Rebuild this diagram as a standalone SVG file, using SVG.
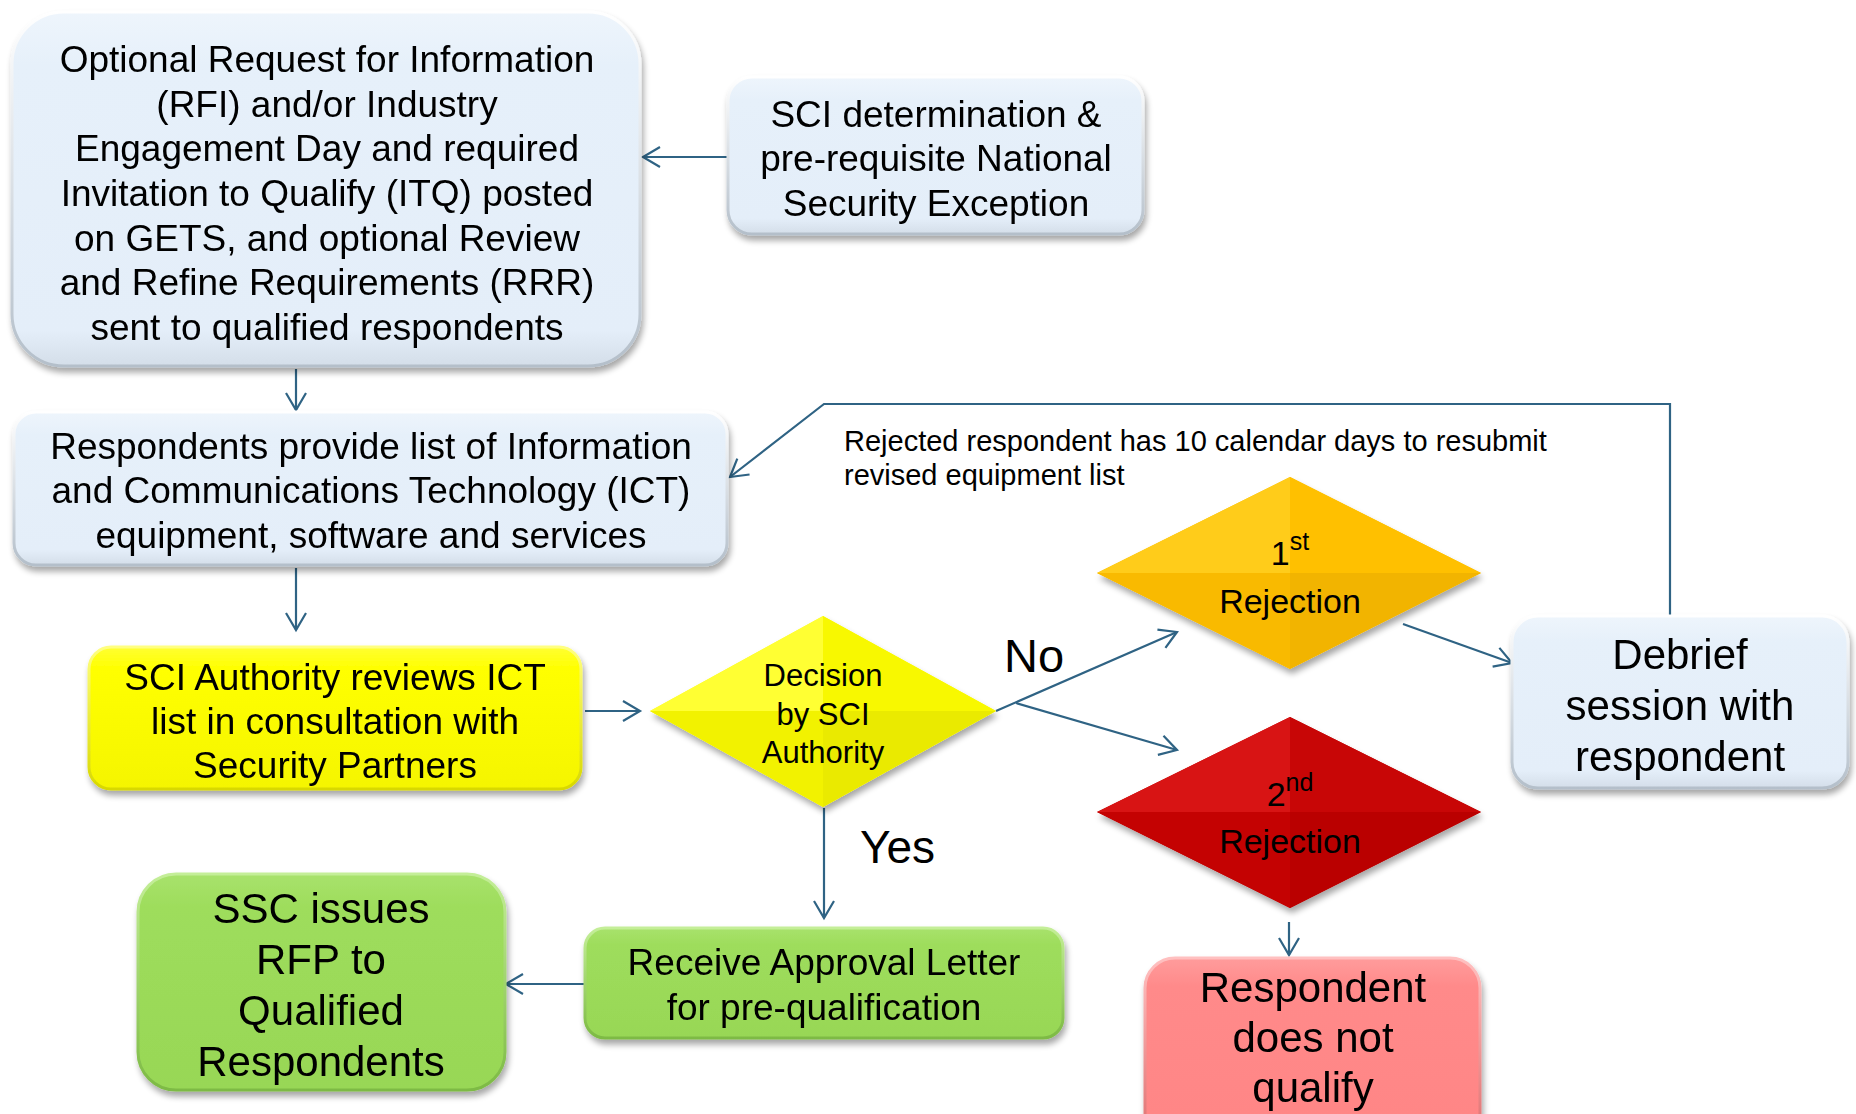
<svg xmlns="http://www.w3.org/2000/svg" width="1856" height="1114" viewBox="0 0 1856 1114">
<style>
.t{font-family:"Liberation Sans",Arial,sans-serif;fill:#000;text-anchor:middle}
.f37{font-size:37px}
.f42{font-size:42px}
.f31{font-size:31px}
.f34{font-size:34px}
.c{fill:none;stroke:#2F6384;stroke-width:2.2;marker-end:url(#ah)}
.blue{fill:url(#gBlue);stroke:url(#sBlue);stroke-width:3}
.yel{fill:url(#gYel);stroke:url(#sYel);stroke-width:3}
.grn{fill:url(#gGrn);stroke:url(#sGrn);stroke-width:3}
.pnk{fill:url(#gPnk);stroke:url(#sPnk);stroke-width:3}
</style>
<defs>
<filter id="sh" x="-10%" y="-10%" width="125%" height="130%">
<feGaussianBlur in="SourceAlpha" stdDeviation="3"/>
<feOffset dx="2" dy="5" result="o"/>
<feComponentTransfer><feFuncA type="linear" slope="0.35"/></feComponentTransfer>
<feMerge><feMergeNode/><feMergeNode in="SourceGraphic"/></feMerge>
</filter>
<linearGradient id="gBlue" x1="0" y1="0" x2="0" y2="1"><stop offset="0" stop-color="#EEF5FC"/><stop offset="0.15" stop-color="#E6F0FA"/><stop offset="0.9" stop-color="#E4EEF9"/><stop offset="1" stop-color="#D4DEE9"/></linearGradient>
<linearGradient id="sBlue" x1="0" y1="0" x2="0" y2="1"><stop offset="0" stop-color="#FFFFFF"/><stop offset="1" stop-color="#B4BFCA"/></linearGradient>
<linearGradient id="gYel" x1="0" y1="0" x2="0" y2="1"><stop offset="0" stop-color="#FFFF33"/><stop offset="0.15" stop-color="#FFFF00"/><stop offset="1" stop-color="#F5F500"/></linearGradient>
<linearGradient id="sYel" x1="0" y1="0" x2="0" y2="1"><stop offset="0" stop-color="#FFFF80"/><stop offset="1" stop-color="#D8D800"/></linearGradient>
<linearGradient id="gGrn" x1="0" y1="0" x2="0" y2="1"><stop offset="0" stop-color="#A8E26C"/><stop offset="0.15" stop-color="#9EDD5C"/><stop offset="1" stop-color="#98D756"/></linearGradient>
<linearGradient id="sGrn" x1="0" y1="0" x2="0" y2="1"><stop offset="0" stop-color="#C4EE98"/><stop offset="1" stop-color="#7DBA44"/></linearGradient>
<linearGradient id="gPnk" x1="0" y1="0" x2="0" y2="1"><stop offset="0" stop-color="#FF9C9C"/><stop offset="0.15" stop-color="#FF8A8A"/><stop offset="1" stop-color="#FF8585"/></linearGradient>
<linearGradient id="sPnk" x1="0" y1="0" x2="0" y2="1"><stop offset="0" stop-color="#FFC0C0"/><stop offset="1" stop-color="#DD6C6C"/></linearGradient>
<marker id="ah" markerUnits="userSpaceOnUse" markerWidth="24" markerHeight="24" viewBox="-20 -12 24 24" refX="0" refY="0" orient="auto">
<path d="M-17,-10 L0,0 L-17,10" fill="none" stroke="#2F6384" stroke-width="2.2"/>
</marker>
</defs>

<g id="connectors">
<line class="c" x1="728" y1="157" x2="643" y2="157"/>
<line class="c" x1="296" y1="369" x2="296" y2="410"/>
<line class="c" x1="296" y1="568" x2="296" y2="630"/>
<line class="c" x1="585" y1="711" x2="640" y2="711"/>
<line class="c" x1="996" y1="711" x2="1177" y2="632"/>
<line class="c" x1="1016" y1="703" x2="1177" y2="750"/>
<line class="c" x1="1403" y1="624" x2="1512" y2="663"/>
<polyline class="c" points="1670,616 1670,404 824,404 730,477"/>
<line class="c" x1="1289" y1="922" x2="1289" y2="955"/>
<line class="c" x1="824" y1="808" x2="824" y2="918"/>
<line class="c" x1="585" y1="984" x2="506" y2="984"/>
</g>

<g id="n1" filter="url(#sh)">
<rect class="blue" x="12" y="12" width="628" height="354" rx="52"/>
<text class="t f37" x="327"><tspan x="327" y="72">Optional Request for Information</tspan><tspan x="327" y="117">(RFI) and/or Industry</tspan><tspan x="327" y="161">Engagement Day and required</tspan><tspan x="327" y="206">Invitation to Qualify (ITQ) posted</tspan><tspan x="327" y="251">on GETS, and optional Review</tspan><tspan x="327" y="295">and Refine Requirements (RRR)</tspan><tspan x="327" y="340">sent to qualified respondents</tspan></text>
</g>

<g id="n2" filter="url(#sh)">
<rect class="blue" x="728" y="77" width="415" height="157" rx="24"/>
<text class="t f37"><tspan x="936" y="127">SCI determination &amp;</tspan><tspan x="936" y="171">pre-requisite National</tspan><tspan x="936" y="216">Security Exception</tspan></text>
</g>

<g id="n3" filter="url(#sh)">
<rect class="blue" x="14" y="412" width="713" height="153" rx="22"/>
<text class="t f37"><tspan x="371" y="459">Respondents provide list of Information</tspan><tspan x="371" y="503">and Communications Technology (ICT)</tspan><tspan x="371" y="548">equipment, software and services</tspan></text>
</g>

<g id="n4" filter="url(#sh)">
<rect class="yel" x="89" y="647" width="492" height="142" rx="22"/>
<text class="t f37"><tspan x="335" y="690">SCI Authority reviews ICT</tspan><tspan x="335" y="734">list in consultation with</tspan><tspan x="335" y="778">Security Partners</tspan></text>
</g>

<g id="n5">
<polygon points="650,711 823,616 996,711 823,807" fill="#FFFF00" filter="url(#sh)"/>
<polygon points="650,711 823,616 823,711" fill="#FFFF40" opacity="0.8"/>
<polygon points="823,616 996,711 823,711" fill="#F8F800"/>
<polygon points="650,711 823,807 823,711" fill="#F2F200"/>
<polygon points="996,711 823,807 823,711" fill="#EAEA00"/>
<text class="t f31"><tspan x="823" y="686">Decision</tspan><tspan x="823" y="725">by SCI</tspan><tspan x="823" y="763">Authority</tspan></text>
</g>

<g id="n6">
<polygon points="1097,573 1290,477 1481,573 1290,669" fill="#FFC000" filter="url(#sh)"/>
<polygon points="1097,573 1290,477 1290,573" fill="#FFCC1A"/>
<polygon points="1290,477 1481,573 1290,573" fill="#FFC000"/>
<polygon points="1097,573 1290,669 1290,573" fill="#F9BA00"/>
<polygon points="1481,573 1290,669 1290,573" fill="#F2B400"/>
<text class="t f34"><tspan x="1290" y="565">1<tspan font-size="25" dy="-15">st</tspan></tspan><tspan x="1290" y="613">Rejection</tspan></text>
</g>

<g id="n7">
<polygon points="1097,812 1290,717 1481,812 1290,908" fill="#C00000" filter="url(#sh)"/>
<polygon points="1097,812 1290,717 1290,812" fill="#D81414"/>
<polygon points="1290,717 1481,812 1290,812" fill="#C80606"/>
<polygon points="1097,812 1290,908 1290,812" fill="#C40202"/>
<polygon points="1481,812 1290,908 1290,812" fill="#BA0000"/>
<text class="t f34"><tspan x="1290" y="806">2<tspan font-size="25" dy="-15">nd</tspan></tspan><tspan x="1290" y="853">Rejection</tspan></text>
</g>

<g id="n8" filter="url(#sh)">
<rect class="blue" x="1512" y="616" width="336" height="172" rx="26"/>
<text class="t f42"><tspan x="1680" y="669">Debrief</tspan><tspan x="1680" y="720">session with</tspan><tspan x="1680" y="771">respondent</tspan></text>
</g>

<g id="n9" filter="url(#sh)">
<rect class="grn" x="585" y="928" width="478" height="110" rx="20"/>
<text class="t f37"><tspan x="824" y="975">Receive Approval Letter</tspan><tspan x="824" y="1020">for pre-qualification</tspan></text>
</g>

<g id="n10" filter="url(#sh)">
<rect class="grn" x="138" y="874" width="367" height="216" rx="38"/>
<text class="t f42"><tspan x="321" y="923">SSC issues</tspan><tspan x="321" y="974">RFP to</tspan><tspan x="321" y="1025">Qualified</tspan><tspan x="321" y="1076">Respondents</tspan></text>
</g>

<g id="n11" filter="url(#sh)">
<rect class="pnk" x="1145" y="958" width="335" height="190" rx="30"/>
<text class="t f42"><tspan x="1313" y="1002">Respondent</tspan><tspan x="1313" y="1052">does not</tspan><tspan x="1313" y="1102">qualify</tspan></text>
</g>

<g id="labels">
<text class="t" style="font-size:29px;text-anchor:start" x="844" y="451">Rejected respondent has 10 calendar days to resubmit</text>
<text class="t" style="font-size:29px;text-anchor:start" x="844" y="485">revised equipment list</text>
<text class="t" style="font-size:47px;text-anchor:start" x="1004" y="672">No</text>
<text class="t" style="font-size:46px;text-anchor:start" x="860" y="863">Yes</text>
</g>
</svg>
